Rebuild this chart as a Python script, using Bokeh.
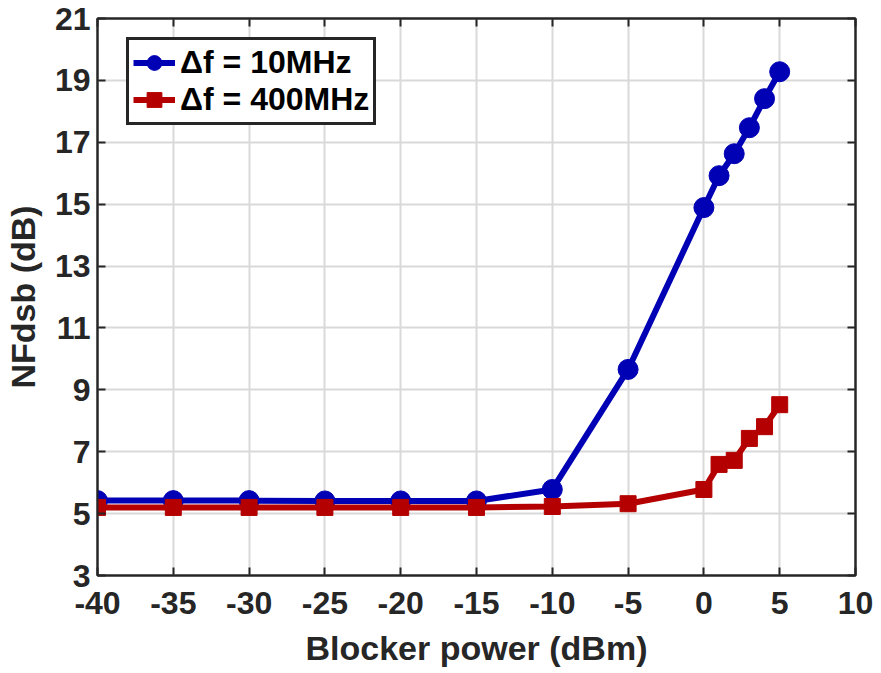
from bokeh.plotting import figure
from bokeh.models import LinearAxis, FixedTicker, Legend, LegendItem, Range1d
from bokeh.embed import file_html
from bokeh.resources import INLINE

# Blocker power sweep (dBm) and measured double-sideband noise figure (dB)
blocker_dbm = [-40, -35, -30, -25, -20, -15, -10, -5, 0, 1, 2, 3, 4, 5]
nf_10mhz = [5.42, 5.42, 5.42, 5.41, 5.41, 5.41, 5.78, 9.66, 14.89, 15.92, 16.63, 17.47, 18.41, 19.28]
nf_400mhz = [5.20, 5.20, 5.20, 5.20, 5.20, 5.20, 5.23, 5.32, 5.78, 6.59, 6.72, 7.43, 7.81, 8.52]

x_ticks = list(range(-40, 11, 5))
y_ticks = list(range(3, 22, 2))
x_tick_labels = {t: str(t) for t in x_ticks}   # plain hyphen minus
y_tick_labels = {t: str(t) for t in y_ticks}
series_labels = ["\u0394f = 10MHz", "\u0394f = 400MHz"]

FONT = "Liberation Sans"
INK = "#262626"
BLUE = "#0000b4"
RED = "#b40000"

p = figure(width=881, height=673, output_backend="svg", toolbar_location=None,
           x_range=Range1d(-40, 10), y_range=Range1d(3, 21),
           min_border_left=97, min_border_right=26, min_border_top=18, min_border_bottom=98)
p.background_fill_color = "white"
p.border_fill_color = "white"
p.outline_line_color = INK
p.outline_line_width = 2

p.xaxis.ticker = FixedTicker(ticks=x_ticks)
p.yaxis.ticker = FixedTicker(ticks=y_ticks)
p.xaxis.major_label_overrides = x_tick_labels
p.yaxis.major_label_overrides = y_tick_labels

for ax in (p.xaxis[0], p.yaxis[0]):
    ax.axis_line_color = INK
    ax.axis_line_width = 2
    ax.major_tick_in = 8
    ax.major_tick_out = 0
    ax.major_tick_line_color = INK
    ax.major_tick_line_width = 2
    ax.minor_tick_line_color = None
    ax.major_label_text_font = FONT
    ax.major_label_text_font_style = "bold"
    ax.major_label_text_font_size = "32px"
    ax.major_label_text_color = INK
    ax.axis_label_text_font = FONT
    ax.axis_label_text_font_style = "bold"
    ax.axis_label_text_font_size = "34px"
    ax.axis_label_text_color = INK

p.xaxis.axis_label = "Blocker power (dBm)"
p.yaxis.axis_label = "NFdsb (dB)"
p.xaxis.major_label_standoff = 16
p.yaxis.major_label_standoff = 7
p.xaxis.axis_label_standoff = 12
p.yaxis.axis_label_standoff = 10

# Mirror ticks on the top and right edges (box style), without labels
def tick_only_axis(ticks):
    return LinearAxis(ticker=FixedTicker(ticks=ticks), major_label_text_color=None,
                      major_label_text_font_size="1px", major_label_standoff=0,
                      major_tick_in=8, major_tick_out=0, major_tick_line_color=INK,
                      major_tick_line_width=2, minor_tick_line_color=None,
                      axis_line_color=INK, axis_line_width=2)

p.add_layout(tick_only_axis(x_ticks), "above")
p.add_layout(tick_only_axis(y_ticks), "right")

p.xgrid.ticker = FixedTicker(ticks=x_ticks)
p.ygrid.ticker = FixedTicker(ticks=y_ticks)
for g in (p.xgrid[0], p.ygrid[0]):
    g.grid_line_color = "#d9d9d9"
    g.grid_line_width = 2

l1 = p.line(blocker_dbm, nf_10mhz, line_color=BLUE, line_width=6)
m1 = p.scatter(blocker_dbm, nf_10mhz, marker="circle", size=20, fill_color=BLUE, line_color=BLUE)
l2 = p.line(blocker_dbm, nf_400mhz, line_color=RED, line_width=6)
m2 = p.scatter(blocker_dbm, nf_400mhz, marker="square", size=16, fill_color=RED, line_color=RED)

legend = Legend(items=[LegendItem(label=series_labels[0], renderers=[l1, m1]),
                       LegendItem(label=series_labels[1], renderers=[l2, m2])],
                location=(29, 450))
legend.label_text_font = FONT
legend.label_text_font_style = "bold"
legend.label_text_font_size = "32px"
legend.label_text_color = "black"
legend.glyph_width = 42
legend.glyph_height = 37
legend.label_height = 37
legend.label_standoff = 5
legend.spacing = 0
legend.padding = 4
legend.margin = 0
legend.border_line_color = INK
legend.border_line_alpha = 1
legend.border_line_width = 3
legend.background_fill_color = "white"
legend.background_fill_alpha = 1
p.add_layout(legend)

open("out.html", "w").write(file_html(p, INLINE))
